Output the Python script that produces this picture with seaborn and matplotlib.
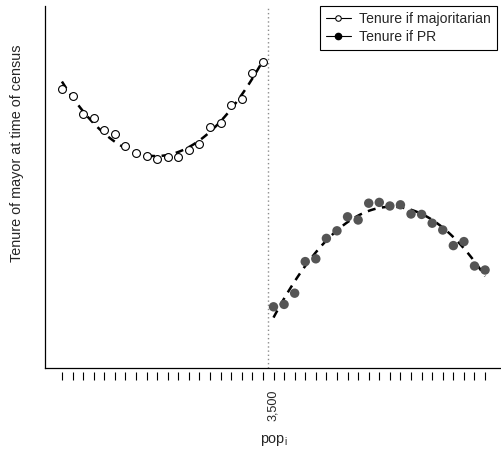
import matplotlib
matplotlib.use("Agg")
import matplotlib.pyplot as plt
import matplotlib.transforms as mtransforms
from matplotlib.lines import Line2D
import seaborn as sns
import pandas as pd

# ---- data ----
cutoff = 3500
left_pop = [2525, 2575, 2625, 2675, 2725, 2775, 2825, 2875, 2925, 2975,
            3025, 3075, 3125, 3175, 3225, 3275, 3325, 3375, 3425, 3475]
left_tenure = [6.97, 6.80, 6.35, 6.26, 5.95, 5.86, 5.56, 5.38, 5.30, 5.22,
               5.27, 5.27, 5.45, 5.60, 6.02, 6.13, 6.58, 6.72, 7.38, 7.66]
right_pop = [3525, 3575, 3625, 3675, 3725, 3775, 3825, 3875, 3925, 3975,
             4025, 4075, 4125, 4175, 4225, 4275, 4325, 4375, 4425, 4475, 4525]
right_tenure = [1.53, 1.59, 1.87, 2.66, 2.73, 3.24, 3.43, 3.78, 3.70, 4.12,
                4.14, 4.05, 4.08, 3.85, 3.84, 3.62, 3.45, 3.06, 3.16, 2.55, 2.45]
cutoff_label = "3,500"
legend_labels = ["Tenure if majoritarian", "Tenure if PR"]
x_label = "pop$_{\\mathregular{i}}$"
y_label = "Tenure of mayor at time of census"

sns.set_style("white")
plt.rcParams["font.family"] = ["Liberation Sans", "DejaVu Sans"]

df_left = pd.DataFrame({"pop": left_pop, "tenure": left_tenure})
df_right = pd.DataFrame({"pop": right_pop, "tenure": right_tenure})

fig = plt.figure(figsize=(5.01, 4.5), dpi=100)
ax = fig.add_axes([45 / 501, 82 / 450, 457 / 501, 362 / 450])

line_kws = dict(color="black", lw=1.8, dashes=(3.2, 2.6), zorder=2)
sns.regplot(data=df_left, x="pop", y="tenure", order=2, ci=None,
            scatter=False, ax=ax, line_kws=line_kws)
sns.regplot(data=df_right, x="pop", y="tenure", order=2, ci=None,
            scatter=False, ax=ax, line_kws=line_kws)

sns.scatterplot(data=df_left, x="pop", y="tenure", ax=ax, marker="o", s=32,
                color="white", edgecolor="black", linewidth=0.8, zorder=3)
sns.scatterplot(data=df_right, x="pop", y="tenure", ax=ax, marker="o", s=46,
                color="#555555", edgecolor="none", linewidth=0, zorder=3)

ax.axvline(cutoff, color="#8c8c8c", ls=(0, (1, 2)), lw=1, zorder=1)

ax.set_xlim(2445, 4605)
ax.set_ylim(0, 9.05)

# spines: L-shaped box, ticks offset below
ax.spines["right"].set_visible(False)
ax.spines["top"].set_position(("axes", 0))
ax.spines["top"].set_color("black")
ax.spines["top"].set_linewidth(0.9)
ax.spines["left"].set_color("black")
ax.spines["left"].set_linewidth(0.9)
ax.spines["bottom"].set_position(("outward", 4 * 0.72))
ax.spines["bottom"].set_color("none")

ax.set_yticks([])
ax.set_xticks(left_pop + right_pop, labels=[""] * (len(left_pop) + len(right_pop)))
ax.tick_params(axis="x", which="major", direction="out", bottom=True, top=False,
               length=8 * 0.72, width=0.8, color="black")
ax.set_xticks([cutoff], labels=[cutoff_label], minor=True)
ax.tick_params(axis="x", which="minor", bottom=True, top=False, length=0,
               pad=18 * 0.72, labelsize=9.1, labelrotation=90)
offset = mtransforms.ScaledTranslation(4.5 / 100, 0, fig.dpi_scale_trans)
for lab in ax.xaxis.get_minorticklabels():
    lab.set_transform(lab.get_transform() + offset)

ax.set_xlabel(x_label, fontsize=10.4, va="center")
ax.xaxis.set_label_coords(0.5, (368 - 441) / 362)
ax.set_ylabel(y_label, fontsize=10.4, va="center")
ax.yaxis.set_label_coords((17.5 - 45) / 457, (368 - 153) / 362)

handles = [
    Line2D([], [], color="black", lw=0.8, marker="o", markersize=4,
           markerfacecolor="white", markeredgecolor="black", markeredgewidth=0.75),
    Line2D([], [], color="black", lw=0.8, marker="o", markersize=4.5,
           markerfacecolor="black", markeredgecolor="black"),
]
leg = ax.legend(handles, legend_labels, loc="upper right",
                bbox_to_anchor=((497.3 - 45) / 457, (368 - 5.7) / 362),
                borderaxespad=0, frameon=True, fancybox=False,
                edgecolor="black", framealpha=1, fontsize=10.1,
                handlelength=1.75, handletextpad=0.6, borderpad=0.45,
                labelspacing=0.25)
leg.get_frame().set_linewidth(0.8)

fig.savefig("out.png", dpi=100)
